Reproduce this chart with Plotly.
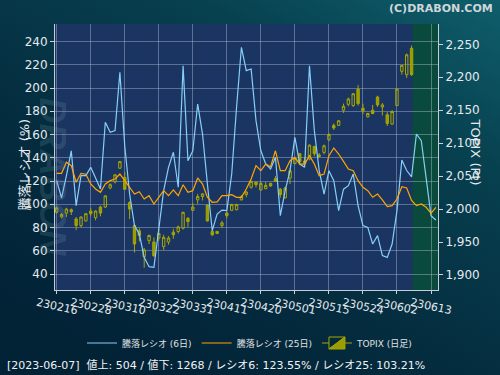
import base64
import plotly.graph_objects as go

# ---------------- data ----------------
tick_labels = ["230216", "230228", "230310", "230322", "230331", "230411",
               "230420", "230501", "230515", "230524", "230602", "230613"]

ratio6 = [120.3, 105.4, 124.6, 146.0, 98.8, 124.6, 124.6, 131.8, 122.6, 113.1,
          170.5, 161.9, 163.3, 213.5, 150.0, 108.8, 81.6, 74.4, 54.3, 46.3,
          45.8, 78.0, 111.7, 131.8, 144.7, 114.6, 219.2, 137.5, 146.0, 186.2,
          160.4, 117.4, 77.3, 91.6, 95.0, 94.5, 126.0, 183.4, 235.0, 214.9,
          216.3, 171.9, 146.0, 134.6, 130.3, 140.4, 90.2, 111.7, 128.9, 157.6,
          134.6, 131.8, 219.2, 163.3, 128.9, 108.8, 128.9, 120.3, 94.5, 113.0,
          116.0, 126.0, 98.8, 81.6, 80.1, 65.8, 73.0, 55.8, 54.3, 65.8,
          94.5, 138.0, 129.0, 123.55, 160.4, 154.7, 120.3, 90.2, 86.5]

ratio25 = [126.6, 126.6, 136.1, 133.2, 118.9, 126.6, 125.8, 117.4, 113.1, 110.3,
           117.4, 120.3, 121.7, 126.0, 120.3, 114.6, 108.8, 110.8, 104.5, 107.4,
           100.2, 106.0, 111.7, 107.4, 112.3, 107.4, 116.8, 110.3, 111.7, 122.6,
           117.4, 106.0, 101.7, 102.0, 107.4, 107.4, 108.2, 106.0, 106.0, 113.1,
           121.7, 133.2, 128.9, 134.6, 132.3, 146.0, 128.9, 128.9, 137.5, 140.4,
           134.6, 134.6, 141.8, 134.6, 124.6, 126.0, 141.8, 148.4, 143.2, 136.9,
           130.3, 128.9, 120.3, 114.6, 111.7, 106.0, 108.8, 103.7, 97.9, 98.8,
           104.5, 115.1, 114.0, 103.21, 98.8, 100.2, 97.4, 92.2, 97.4]

topix_open = [1995, 1988, 1994, 1999, 1985, 1975, 1982, 1997, 1987, 2003,
              2003, 2032, 2041, 2062, 2048, 2010, 1975, 1967, 1928, 1952,
              1950, 1956, 1943, 1950, 1965, 1966, 1971, 1986, 1998, 2014,
              2019, 2006, 1966, 1966, 1975, 1994, 1998, 1999, 2014, 2022,
              2033, 2041, 2029, 2031, 2039, 2046, 2030, 2017, 2047, 2069,
              2084, 2073, 2076, 2095, 2082, 2086, 2105, 2127, 2127, 2150,
              2159, 2157, 2182, 2153, 2140, 2150, 2170, 2155, 2143, 2129,
              2157, 2209, 2204, 2244]
topix_high = [2003, 1994, 2002, 2001, 1988, 1989, 1994, 2002, 1998, 2005,
              2021, 2039, 2053, 2073, 2056, 2012, 1977, 1971, 1941, 1961,
              1957, 1970, 1961, 1959, 1970, 1975, 1996, 1988, 2009, 2023,
              2024, 2007, 1968, 1967, 1982, 1996, 2008, 2008, 2021, 2027,
              2043, 2041, 2041, 2041, 2040, 2050, 2032, 2034, 2062, 2079,
              2085, 2079, 2098, 2096, 2085, 2098, 2115, 2130, 2135, 2160,
              2169, 2176, 2188, 2160, 2146, 2158, 2172, 2161, 2147, 2150,
              2183, 2218, 2236, 2248]
topix_low = [1993, 1986, 1988, 1991, 1968, 1972, 1981, 1989, 1983, 1989,
             2002, 2030, 2039, 2061, 2029, 1985, 1934, 1951, 1911, 1947,
             1928, 1952, 1938, 1946, 1955, 1963, 1969, 1973, 1997, 2008,
             2013, 1981, 1959, 1962, 1971, 1986, 1997, 1998, 2013, 2018,
             2031, 2033, 2028, 2030, 2034, 2041, 2017, 2016, 2038, 2068,
             2068, 2065, 2074, 2080, 2078, 2083, 2103, 2120, 2126, 2146,
             2156, 2155, 2157, 2144, 2139, 2144, 2155, 2142, 2126, 2128,
             2157, 2204, 2199, 2202]
topix_close = [2002, 1992, 2000, 1996, 1975, 1988, 1993, 1993, 1997, 1994,
               2020, 2037, 2052, 2072, 2030, 2000, 1947, 1960, 1938, 1960,
               1929, 1963, 1957, 1956, 1961, 1973, 1995, 1981, 2003, 2019,
               2023, 1982, 1961, 1963, 1979, 1990, 2007, 2007, 2019, 2026,
               2042, 2037, 2039, 2036, 2035, 2042, 2022, 2032, 2058, 2077,
               2072, 2069, 2097, 2084, 2080, 2096, 2113, 2123, 2134, 2156,
               2167, 2175, 2160, 2149, 2145, 2145, 2158, 2158, 2130, 2148,
               2182, 2218, 2234, 2204]

left_ticks = [40, 60, 80, 100, 120, 140, 160, 180, 200, 220, 240]
right_ticks = [1900, 1950, 2000, 2050, 2100, 2150, 2200, 2250]

footer_text = "[2023-06-07]  値上: 504 / 値下: 1268 / レシオ6: 123.55% / レシオ25: 103.21%"

# ---------------- derived ----------------
days_ratio = list(range(len(ratio6)))
days_topix = list(range(len(topix_open)))
tick_step = 7
tick_pos = [i * tick_step for i in range(len(tick_labels))]

W, H = 500, 375
ML, MR, MT, MB = 55, 62, 24, 85
PW, PH = W - ML - MR, H - MT - MB

FONT = "DejaVu Sans, Noto Sans CJK JP, sans-serif"
TXT = "#e6e9ee"

fig = go.Figure()

fig.add_trace(go.Candlestick(
    x=days_topix, open=topix_open, high=topix_high, low=topix_low, close=topix_close,
    xaxis="x", yaxis="y", name="TOPIX (日足)", legendrank=3,
    whiskerwidth=0,
    increasing=dict(line=dict(color="#a6a600", width=1), fillcolor="rgba(0,0,0,0)"),
    decreasing=dict(line=dict(color="#a6a600", width=1), fillcolor="#9c9c00"),
    hoverinfo="skip",
))
fig.add_trace(go.Scatter(
    x=days_ratio, y=ratio6, xaxis="x", yaxis="y2", mode="lines",
    name="騰落レシオ (6日)", legendrank=1,
    line=dict(color="#87cefa", width=1.2),
))
fig.add_trace(go.Scatter(
    x=days_ratio, y=ratio25, xaxis="x", yaxis="y2", mode="lines",
    name="騰落レシオ (25日)", legendrank=2,
    line=dict(color="#ffa500", width=1.2),
))

svg = ('<svg xmlns="http://www.w3.org/2000/svg" width="500" height="375">'
       '<defs><linearGradient id="g" x1="1" y1="0" x2="0.25" y2="1">'
       '<stop offset="0" stop-color="#0f5e6b"/>'
       '<stop offset="0.3" stop-color="#07404f"/>'
       '<stop offset="0.7" stop-color="#042b3e"/>'
       '<stop offset="1" stop-color="#022236"/>'
       '</linearGradient></defs>'
       '<rect width="500" height="375" fill="url(#g)"/></svg>')
bg_src = "data:image/svg+xml;base64," + base64.b64encode(svg.encode()).decode()

x_lo = -0.35
x_hi = 78.44
shade_start = len(topix_open) - 1 + 0.2

annotations = [
    dict(x=-(ML - 30) / PW, y=(PH - (177 - MT)) / PH, xref="paper", yref="paper",
         text="<b><i>DRABON</i></b>", showarrow=False, textangle=90,
         font=dict(size=36, color="rgba(120,160,175,0.20)", family="Liberation Sans")),
]
for p, lab in zip(tick_pos, tick_labels):
    annotations.append(dict(x=p, y=-0.012, xref="x", yref="paper", text=lab,
                            showarrow=False, textangle=12, xanchor="center",
                            yanchor="top", font=dict(size=11, color=TXT, family=FONT)))
annotations += [
    dict(x=-41 / PW, y=(PH - (165 - MT)) / PH, xref="paper", yref="paper",
         text="騰落レシオ (%)", textangle=-90, showarrow=False,
         font=dict(size=13, color=TXT, family=FONT)),
    dict(x=(485 - ML) / PW, y=(PH - (152 - MT)) / PH, xref="paper", yref="paper",
         text="TOPIX (Pt)", textangle=90, showarrow=False,
         font=dict(size=13, color=TXT, family=FONT)),
    dict(x=-(ML - 5) / PW, y=-(366 - MT - PH) / PH, xref="paper", yref="paper",
         text=footer_text, showarrow=False, xanchor="left", yanchor="middle",
         font=dict(size=11, color="#f2f2f2", family=FONT)),
    dict(x=(495 - ML) / PW, y=1 + (MT - 9) / PH, xref="paper", yref="paper",
         text="<b>(C)DRABON.COM</b>", showarrow=False, xanchor="right", yanchor="middle",
         font=dict(size=11, color="#cfd6da", family=FONT)),
]

fig.update_layout(
    width=W, height=H,
    margin=dict(l=ML, r=MR, t=MT, b=MB, pad=0, autoexpand=False),
    paper_bgcolor="#04293b",
    plot_bgcolor="#1b3562",
    font=dict(family=FONT, color=TXT, size=11),
    showlegend=True,
    legend=dict(orientation="h", xref="container", yref="container",
                x=0.5, xanchor="center", y=1 - 343 / H, yanchor="middle",
                font=dict(size=9, color="#e0e0e0", family=FONT),
                bgcolor="rgba(0,0,0,0)", itemwidth=30),
    images=[dict(source=bg_src, xref="paper", yref="paper",
                 x=-ML / PW, y=1 + MT / PH, sizex=W / PW, sizey=H / PH,
                 xanchor="left", yanchor="top", sizing="stretch", layer="below")],
    shapes=[
        dict(type="rect", xref="x domain", yref="y domain", x0=0, x1=1, y0=0, y1=1,
             fillcolor="#1b3562", line=dict(width=0), layer="below"),
        dict(type="rect", xref="x", yref="y domain", x0=shade_start, x1=x_hi, y0=0, y1=1,
             fillcolor="#0a4a3c", line=dict(width=0), layer="below"),
    ],
    annotations=annotations,
    xaxis=dict(range=[x_lo, x_hi], tickvals=tick_pos, showticklabels=False,
               showgrid=True, gridcolor="rgba(190,200,225,0.4)", gridwidth=1,
               ticks="outside", ticklen=3, tickcolor="#d0d0d0",
               showline=True, linecolor="#c8ccd4", linewidth=1, zeroline=False,
               rangeslider=dict(visible=False), fixedrange=True, automargin=False),
    yaxis=dict(side="right", range=[1877.2, 2280.8], tickvals=right_ticks,
               tickformat=",d", showgrid=False, zeroline=False, automargin=False,
               ticks="outside", ticklen=4, tickcolor="#d0d0d0",
               showline=True, linecolor="#c8ccd4", linewidth=1,
               tickfont=dict(size=12, color=TXT, family=FONT)),
    yaxis2=dict(side="left", overlaying="y", range=[26.24, 255.05], tickvals=left_ticks,
                showgrid=True, gridcolor="rgba(190,200,225,0.4)", gridwidth=1,
                zeroline=False, automargin=False, ticks="outside", ticklen=4,
                tickcolor="#d0d0d0", showline=True, linecolor="#c8ccd4", linewidth=1,
                tickfont=dict(size=12, color=TXT, family=FONT)),
)

fig.write_html(
    "out.html",
    config={"displayModeBar": False},
    post_script="document.body.style.margin='0';document.body.style.padding='0';",
)
